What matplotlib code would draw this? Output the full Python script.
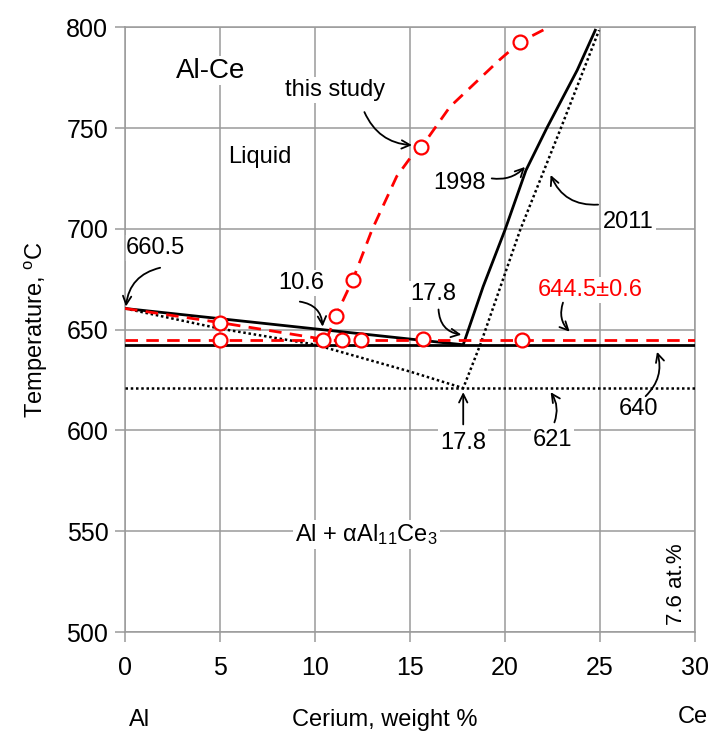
import numpy as np
import matplotlib as mpl
import matplotlib.pyplot as plt

mpl.rcParams["font.family"] = ["Liberation Sans", "DejaVu Sans"]
mpl.rcParams["mathtext.fontset"] = "custom"
mpl.rcParams["mathtext.rm"] = "Liberation Sans"
mpl.rcParams["mathtext.it"] = "Liberation Sans:italic"

# liquidus / solidus from 1998 assessment (solid black)
x_1998 = [0, 17.8, 18.85, 20.0, 21.1, 22.2, 23.8, 24.75]
t_1998 = [660.5, 642.5, 671.4, 699.5, 729, 750, 778.7, 798.5]
# 2011 assessment (dotted)
x_2011 = [0, 5, 10, 15, 17.8, 18.7, 20.8, 22.9, 24.95]
t_2011 = [660.5, 650.5, 642.6, 629.2, 621, 642.6, 699.5, 749, 798.5]
# this study (red dashed)
x_red_hypo = [0, 5, 10.6]
t_red_hypo = [660.5, 653.5, 645]
x_red_liq = [10.6, 11.1, 12.0, 13.0, 14.3, 15.0, 15.6, 17.1, 19.7, 20.8, 22.3]
t_red_liq = [645, 657, 675, 699.5, 726, 735, 740.5, 760.5, 783.7, 792.7, 800]
# eutectic isotherms
t_eut_red = 645
t_eut_1998 = 642.5
t_eut_2011 = 621
# measured points
x_meas = [5, 5, 10.4, 11.1, 11.4, 12.0, 12.4, 15.6, 15.7, 20.8, 20.9]
t_meas = [653.5, 645, 645, 657, 645, 674.8, 645, 740.5, 645.5, 792.7, 645]

fig = plt.figure(figsize=(7.09, 7.35), dpi=100)
ax = fig.add_axes([0.1763, 0.140, 0.804, 0.823])

grey = "#9a9a9a"
ax.set_xlim(0, 30)
ax.set_ylim(500, 800)
ax.set_xticks(np.arange(0, 31, 5))
ax.set_yticks(np.arange(500, 801, 50))
ax.grid(True, color=grey, lw=1.1)
ax.set_axisbelow(True)
for s in ax.spines.values():
    s.set_color(grey)
    s.set_linewidth(1.1)
ax.tick_params(direction="out", length=7, width=1.1, color=grey,
               labelsize=18)
ax.tick_params(axis="x", pad=10)
ax.tick_params(axis="y", pad=5)

black_kw = dict(color="black", lw=2.0, zorder=3)
dot_kw = dict(color="black", lw=1.8, ls=(0, (1, 1.1)), zorder=3)
red_kw = dict(color="red", lw=2.0, ls=(0, (4.5, 3)), zorder=4)

ax.plot(x_1998, t_1998, **black_kw)
ax.plot([0, 30], [t_eut_1998] * 2, **black_kw)
ax.plot(x_2011, t_2011, **dot_kw)
ax.plot([0, 30], [t_eut_2011] * 2, **dot_kw)
ax.plot(x_red_hypo, t_red_hypo, **red_kw)
ax.plot(x_red_liq, t_red_liq, **red_kw)
ax.plot([0, 30], [t_eut_red] * 2, **red_kw)
ax.plot(x_meas, t_meas, ls="None", marker="o", ms=10, mfc="white",
        mec="red", mew=1.6, zorder=5, clip_on=False)

bg = dict(facecolor="white", edgecolor="none", pad=1.5)


def label(txt, x, y, size=17, color="black", **kw):
    ax.text(x, y, txt, ha="center", va="center", fontsize=size, color=color,
            bbox=bg, zorder=2.5, **kw)


def arrow(x0, y0, x1, y1, rad=0.0):
    ax.annotate("", xy=(x1, y1), xytext=(x0, y0),
                arrowprops=dict(arrowstyle="->,head_length=0.6,head_width=0.3",
                                color="black", lw=1.3,
                                connectionstyle=f"arc3,rad={rad}",
                                shrinkA=0, shrinkB=0),
                zorder=6)


label("Al-Ce", 4.5, 778.5, size=20)
label("this study", 11.05, 768.8)
label("Liquid", 7.1, 735.6)
label("1998", 17.6, 722.8)
label("2011", 26.5, 703.5)
label("660.5", 1.6, 690.6)
label("10.6", 9.3, 673.3)
label("17.8", 16.2, 667.8)
label("644.5±0.6", 24.5, 669.8, color="red")
label("640", 27.0, 610.4)
label("621", 22.5, 595.5)
label("17.8", 17.8, 594.0)
label(r"Al + αAl$_{11}$Ce$_3$", 12.7, 548.5)
ax.text(29.05, 523.8, "7.6 at.%", rotation=90, ha="center", va="center",
        fontsize=16)

arrow(12.6, 757.9, 15.1, 741.5, rad=0.3)
arrow(19.3, 725.0, 21.05, 730.7, rad=0.25)
arrow(24.9, 712.0, 22.4, 726.7, rad=-0.35)
arrow(1.85, 680.7, 0.05, 661.5, rad=0.35)
arrow(9.2, 663.9, 10.4, 651.5, rad=-0.4)
arrow(16.5, 660.0, 17.7, 647.5, rad=0.4)
arrow(23.05, 663.4, 23.4, 649.0, rad=0.3)
arrow(27.4, 617.0, 28.0, 639.0, rad=0.3)
arrow(22.6, 604.0, 22.4, 619.0, rad=0.25)
arrow(17.8, 603.0, 17.8, 619.0)

ax.set_ylabel(r"Temperature, $\mathregular{^o}$C", fontsize=17, labelpad=12)
fig.text(140 / 709, 1 - 720 / 735, "Al", ha="center", va="center", fontsize=17)
fig.text(385 / 709, 1 - 720 / 735, "Cerium, weight %", ha="center",
         va="center", fontsize=17)
fig.text(708 / 709, 1 - 717 / 735, "Ce", ha="right", va="center", fontsize=17)

fig.savefig("out.png", dpi=100)
